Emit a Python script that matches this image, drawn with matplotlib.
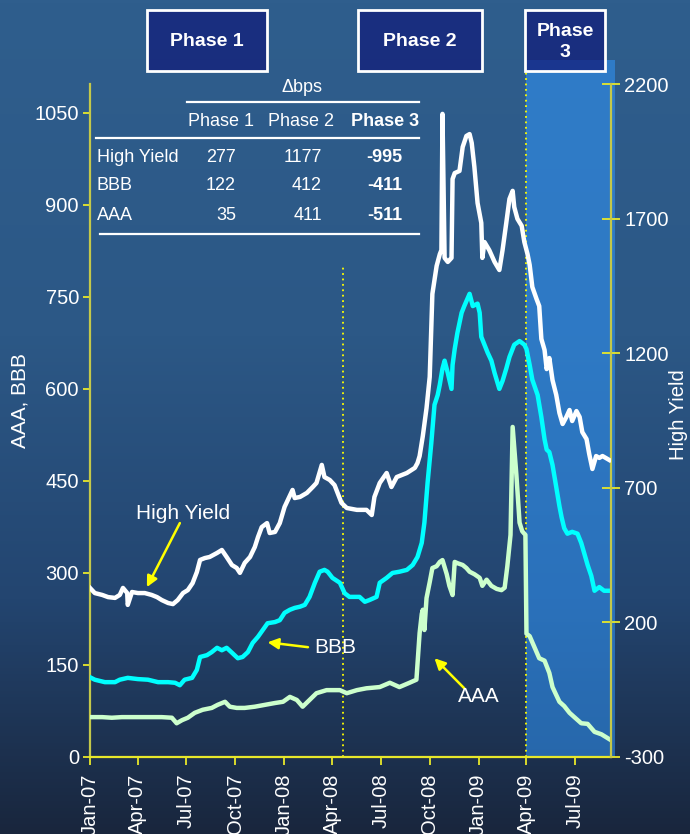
import numpy as np
import pandas as pd
import matplotlib
matplotlib.use("Agg")
import matplotlib.pyplot as plt
import matplotlib.dates as mdates
from matplotlib.colors import LinearSegmentedColormap
from matplotlib.patches import Rectangle
from matplotlib.lines import Line2D

plt.rcParams['font.family'] = ['Liberation Sans', 'DejaVu Sans']
plt.rcParams['axes.unicode_minus'] = False

# ---------------- spread series (bps) ----------------
hy_dates = [
    "2007-01-01", "2007-01-10", "2007-01-24", "2007-02-04", "2007-02-17", "2007-02-26",
    "2007-03-04", "2007-03-12", "2007-03-13", "2007-03-21", "2007-04-01", "2007-04-14",
    "2007-04-27", "2007-05-07", "2007-05-16", "2007-05-28", "2007-06-06", "2007-06-15",
    "2007-06-25", "2007-07-04", "2007-07-13", "2007-07-21", "2007-07-27", "2007-08-05",
    "2007-08-14", "2007-08-28", "2007-09-06", "2007-09-15", "2007-09-25", "2007-10-04",
    "2007-10-10", "2007-10-19", "2007-10-29", "2007-11-07", "2007-11-13", "2007-11-20",
    "2007-11-30", "2007-12-05", "2007-12-15", "2007-12-24", "2008-01-02", "2008-01-17",
    "2008-01-21", "2008-01-31", "2008-02-13", "2008-02-24", "2008-03-02", "2008-03-12",
    "2008-03-17", "2008-03-27", "2008-04-05", "2008-04-18", "2008-04-28", "2008-05-17",
    "2008-06-04", "2008-06-14", "2008-06-19", "2008-06-29", "2008-07-12", "2008-07-21",
    "2008-07-31", "2008-08-19", "2008-09-03", "2008-09-08", "2008-09-12", "2008-09-18",
    "2008-09-25", "2008-10-01", "2008-10-06", "2008-10-14", "2008-10-20", "2008-10-23",
    "2008-10-25", "2008-10-29", "2008-11-04", "2008-11-11", "2008-11-13", "2008-11-17",
    "2008-11-26", "2008-12-02", "2008-12-09", "2008-12-15", "2008-12-19", "2008-12-24",
    "2008-12-30", "2009-01-06", "2009-01-08", "2009-01-12", "2009-01-21", "2009-01-31",
    "2009-02-09", "2009-02-15", "2009-02-22", "2009-02-28", "2009-03-06", "2009-03-09",
    "2009-03-15", "2009-03-23", "2009-03-28", "2009-04-03", "2009-04-07", "2009-04-12",
    "2009-04-20", "2009-04-25", "2009-04-29", "2009-05-05", "2009-05-09", "2009-05-14",
    "2009-05-20", "2009-05-27", "2009-06-02", "2009-06-08", "2009-06-15", "2009-06-21",
    "2009-06-26", "2009-07-04", "2009-07-10", "2009-07-15", "2009-07-23", "2009-07-28",
    "2009-08-03", "2009-08-10", "2009-08-16", "2009-08-22", "2009-09-04",
]
hy_values = [
    328, 309, 302, 294, 291, 302, 328, 309, 265, 313, 309, 309,
    302, 294, 283, 272, 268, 283, 309, 320, 346, 387, 432, 439,
    443, 458, 469, 443, 413, 402, 384, 421, 443, 480, 517, 554,
    569, 532, 536, 569, 629, 692, 662, 666, 681, 703, 718, 785,
    740, 729, 710, 644, 625, 618, 618, 599, 666, 718, 755, 703,
    740, 755, 774, 792, 818, 892, 996, 1112, 1420, 1524, 1568, 1583,
    2089, 1554, 1539, 1554, 1847, 1869, 1877, 1966, 2007, 2014, 1981, 1892,
    1758, 1684, 1554, 1613, 1583, 1539, 1509, 1583, 1684, 1773, 1803, 1743,
    1699, 1673, 1613, 1568, 1528, 1446, 1401, 1375, 1253, 1212, 1141, 1182,
    1100, 1045, 978, 937, 963, 989, 948, 985, 963, 907, 881, 826,
    770, 818, 811, 818, 803,
]

bbb_dates = [
    "2007-01-01", "2007-01-10", "2007-01-29", "2007-02-17", "2007-02-26", "2007-03-13",
    "2007-04-01", "2007-04-20", "2007-05-09", "2007-05-28", "2007-06-10", "2007-06-19",
    "2007-06-28", "2007-07-12", "2007-07-21", "2007-07-27", "2007-08-09", "2007-08-18",
    "2007-08-28", "2007-09-06", "2007-09-15", "2007-09-25", "2007-10-06", "2007-10-15",
    "2007-10-25", "2007-11-03", "2007-11-13", "2007-11-22", "2007-12-01", "2007-12-15",
    "2007-12-24", "2008-01-02", "2008-01-12", "2008-01-21", "2008-01-31", "2008-02-09",
    "2008-02-18", "2008-02-28", "2008-03-08", "2008-03-17", "2008-03-23", "2008-04-01",
    "2008-04-15", "2008-04-24", "2008-05-03", "2008-05-22", "2008-06-01", "2008-06-10",
    "2008-06-23", "2008-06-29", "2008-07-12", "2008-07-23", "2008-08-05", "2008-08-19",
    "2008-08-30", "2008-09-08", "2008-09-16", "2008-09-21", "2008-09-27", "2008-10-04",
    "2008-10-10", "2008-10-16", "2008-10-20", "2008-10-25", "2008-10-29", "2008-11-04",
    "2008-11-11", "2008-11-13", "2008-11-17", "2008-11-22", "2008-11-30", "2008-12-05",
    "2008-12-15", "2008-12-21", "2008-12-30", "2009-01-03", "2009-01-06", "2009-01-12",
    "2009-01-18", "2009-01-25", "2009-01-31", "2009-02-09", "2009-02-15", "2009-02-22",
    "2009-02-28", "2009-03-09", "2009-03-19", "2009-03-28", "2009-04-01", "2009-04-07",
    "2009-04-12", "2009-04-22", "2009-04-29", "2009-05-05", "2009-05-09", "2009-05-14",
    "2009-05-20", "2009-05-27", "2009-06-02", "2009-06-06", "2009-06-11", "2009-06-17",
    "2009-06-26", "2009-07-06", "2009-07-13", "2009-07-19", "2009-07-25", "2009-08-01",
    "2009-08-07", "2009-08-16", "2009-08-25", "2009-09-04",
]
bbb_values = [
    130, 126, 122, 122, 126, 129, 127, 126, 122, 122, 121, 117,
    126, 129, 142, 163, 166, 171, 178, 174, 178, 170, 161, 163,
    171, 186, 196, 207, 218, 220, 223, 235, 240, 243, 245, 248,
    261, 284, 302, 305, 302, 292, 284, 267, 261, 261, 253, 256,
    261, 284, 292, 300, 302, 305, 313, 326, 349, 382, 447, 512,
    574, 590, 607, 633, 646, 626, 600, 639, 665, 691, 724, 735,
    755, 735, 739, 724, 685, 672, 659, 646, 626, 600, 613, 633,
    652, 672, 678, 672, 665, 639, 615, 590, 554, 518, 501, 497,
    476, 440, 409, 391, 373, 364, 367, 364, 349, 331, 313, 295,
    271, 277, 271, 271,
]

aaa_dates = [
    "2007-01-01", "2007-01-24", "2007-02-11", "2007-03-02", "2007-03-21", "2007-04-09",
    "2007-04-27", "2007-05-16", "2007-06-04", "2007-06-13", "2007-06-23", "2007-07-04",
    "2007-07-17", "2007-08-01", "2007-08-18", "2007-08-29", "2007-09-12", "2007-09-21",
    "2007-10-04", "2007-10-19", "2007-11-07", "2007-11-26", "2007-12-15", "2007-12-30",
    "2008-01-12", "2008-01-25", "2008-02-05", "2008-02-18", "2008-03-02", "2008-03-21",
    "2008-04-15", "2008-04-28", "2008-05-17", "2008-06-04", "2008-06-29", "2008-07-18",
    "2008-08-05", "2008-08-24", "2008-09-06", "2008-09-12", "2008-09-16", "2008-09-18",
    "2008-09-21", "2008-09-25", "2008-10-01", "2008-10-06", "2008-10-14", "2008-10-20",
    "2008-10-25", "2008-11-02", "2008-11-07", "2008-11-13", "2008-11-17", "2008-11-22",
    "2008-12-02", "2008-12-09", "2008-12-15", "2008-12-24", "2009-01-03", "2009-01-08",
    "2009-01-16", "2009-01-25", "2009-02-04", "2009-02-13", "2009-02-19", "2009-02-24",
    "2009-03-02", "2009-03-06", "2009-03-13", "2009-03-19", "2009-03-24", "2009-03-30",
    "2009-04-01", "2009-04-07", "2009-04-16", "2009-04-25", "2009-05-05", "2009-05-14",
    "2009-05-20", "2009-05-27", "2009-06-02", "2009-06-11", "2009-06-21", "2009-06-30",
    "2009-07-13", "2009-07-25", "2009-08-07", "2009-08-20", "2009-09-04",
]
aaa_values = [
    65, 65, 64, 65, 65, 65, 65, 65, 64, 55, 60, 64,
    72, 77, 80, 85, 90, 82, 80, 80, 82, 85, 88, 90,
    98, 93, 82, 93, 104, 109, 109, 104, 109, 112, 114, 121,
    114, 121, 126, 202, 233, 240, 207, 259, 285, 308, 311, 318,
    321, 298, 279, 264, 318, 316, 313, 308, 302, 298, 292, 279,
    289, 279, 274, 272, 276, 311, 362, 538, 460, 382, 368, 362,
    201, 197, 179, 161, 157, 137, 114, 101, 90, 83, 72, 65,
    55, 54, 41, 37, 29,
]

# ---------------- phases and summary table ----------------
phase_names = ["Phase 1", "Phase 2", "Phase\n3"]
phase1_end = "2008-04-20"
phase3_start = "2009-03-31"
phase3_end = "2009-09-14"

table_title = "\u0394bps"
table_cols = ["Phase 1", "Phase 2", "Phase 3"]
table_rows = ["High Yield", "BBB", "AAA"]
table_vals = [[277, 1177, -995],
              [122, 412, -411],
              [35, 411, -511]]

left_ticks = [0, 150, 300, 450, 600, 750, 900, 1050]
right_ticks = [-300, 200, 700, 1200, 1700, 2200]

# ---------------- figure ----------------
W, H = 690, 834
fig = plt.figure(figsize=(W / 100, H / 100), dpi=100)


def fx(px):
    return px / W


def fy(py):
    return 1 - py / H


# vertical background gradient
bg = fig.add_axes([0, 0, 1, 1], zorder=-10)
bg_cmap = LinearSegmentedColormap.from_list(
    "bg", [(0.0, "#2f5e8d"), (0.40, "#2c5886"), (0.72, "#234570"), (1.0, "#19263d")])
bg.imshow(np.linspace(0, 1, 256).reshape(-1, 1), aspect="auto", cmap=bg_cmap,
          extent=[0, 1, 0, 1], origin="upper")
bg.set_axis_off()

ax = fig.add_axes([fx(90), fy(757), fx(611) - fx(90), fy(84) - fy(757)])
ax.patch.set_alpha(0)
ax2 = ax.twinx()
ax2.patch.set_alpha(0)

# phase header boxes (drawn over the shaded phase 3 band)
boxes = [(147, 267), (358, 482), (525, 605)]
for (x0, x1), name in zip(boxes, phase_names):
    fig.add_artist(Rectangle((fx(x0), fy(71)), fx(x1) - fx(x0), fy(10) - fy(71),
                             transform=fig.transFigure, facecolor=(0.07, 0.11, 0.48, 0.72),
                             edgecolor="white", linewidth=2, zorder=5))
    fig.text(fx((x0 + x1) / 2), fy(42), name, ha="center", va="center",
             color="white", fontsize=14, fontweight="bold", linespacing=1.3, zorder=6)

x_start = pd.Timestamp("2007-01-01")
x_end = pd.Timestamp("2009-09-07")
ax.set_xlim(x_start, x_end)
ax.set_ylim(0, 1097)
ax2.set_ylim(-300, 2200)

# phase 3 shading and phase boundaries
top_ext = (757 - 60) / (757 - 84)
ax.axvspan(pd.Timestamp(phase3_start), pd.Timestamp(phase3_end), ymin=0, ymax=top_ext,
           facecolor="#3196f9", alpha=0.55, lw=0, clip_on=False, zorder=0.5)
ax.axvline(pd.Timestamp(phase1_end), ymin=0, ymax=(757 - 265) / (757 - 84),
           color="#ffff00", ls=(0, (1, 2)), lw=1.3, zorder=1)
ax.axvline(pd.Timestamp(phase3_start), ymin=0, ymax=top_ext, clip_on=False,
           color="#ffff00", ls=(0, (1, 2)), lw=1.3, zorder=1)

# spread lines
ax.plot(pd.to_datetime(aaa_dates), aaa_values, color="#ccffcc", lw=3.2,
        solid_joinstyle="round", zorder=3)
ax.plot(pd.to_datetime(bbb_dates), bbb_values, color="#00ffff", lw=3.2,
        solid_joinstyle="round", zorder=3)
ax2.plot(pd.to_datetime(hy_dates), hy_values, color="white", lw=3.2,
         solid_joinstyle="round", zorder=3)

# axes styling
spine_col = "#c4c84a"
tick_col = "#e8e82a"
for s in ["top", "right"]:
    ax.spines[s].set_visible(False)
for s in ["top", "left", "bottom"]:
    ax2.spines[s].set_visible(False)
ax.spines["left"].set_color(spine_col)
ax.spines["bottom"].set_color(tick_col)
ax2.spines["right"].set_color(spine_col)
for sp in [ax.spines["left"], ax.spines["bottom"], ax2.spines["right"]]:
    sp.set_linewidth(1.6)

ax.set_yticks(left_ticks)
ax2.set_yticks(right_ticks)
ax.tick_params(axis="y", direction="out", length=5, width=1.3, color=tick_col,
               labelcolor="white", labelsize=14.5, pad=3)
ax2.tick_params(axis="y", direction="inout", length=13, width=1.3, color=tick_col,
                labelcolor="white", labelsize=14.5, pad=3)

ax.xaxis.set_major_locator(mdates.MonthLocator(bymonth=[1, 4, 7, 10]))
ax.xaxis.set_major_formatter(mdates.DateFormatter("%b-%y"))
ax.tick_params(axis="x", direction="out", length=6, width=1.3, color=tick_col,
               labelcolor="white", labelsize=14.5, pad=6, labelrotation=90)

ax.set_ylabel("AAA, BBB", color="white", fontsize=15)
ax.yaxis.set_label_coords((30 - 90) / 521, (757 - 401) / 673)
# right-hand axis title, placed as figure text so it sits fully inside the canvas
fig.text(fx(679), fy(415), "High Yield", color="white", fontsize=14.5, rotation=90,
         ha="center", va="center")

# series annotations
arrow_kw = dict(arrowstyle="-|>", color="#ffff00", lw=1.8, mutation_scale=16,
                shrinkA=0, shrinkB=0)
ax2.annotate("", xy=(pd.Timestamp("2007-04-18"), 331),
             xytext=(pd.Timestamp("2007-06-19"), 569), arrowprops=arrow_kw, zorder=4)
ax2.text(pd.Timestamp("2007-06-25"), 606, "High Yield", color="white", fontsize=15,
         ha="center", va="center", zorder=4)
ax.annotate("", xy=(pd.Timestamp("2007-12-01"), 187),
            xytext=(pd.Timestamp("2008-02-15"), 179), arrowprops=arrow_kw, zorder=4)
ax.text(pd.Timestamp("2008-04-07"), 179, "BBB", color="white", fontsize=15,
        ha="center", va="center", zorder=4)
ax.annotate("", xy=(pd.Timestamp("2008-10-10"), 161),
            xytext=(pd.Timestamp("2008-12-05"), 112), arrowprops=arrow_kw, zorder=4)
ax.text(pd.Timestamp("2009-01-01"), 98, "AAA", color="white", fontsize=15,
        ha="center", va="center", zorder=4)

# summary table of spread changes
tfs = 13
fig.text(fx(302), fy(88), table_title, ha="center", va="center", color="white", fontsize=tfs)
col_centers = [221, 301, 385]
col_rights = [236, 322, 402]
for name, cx in zip(table_cols, col_centers):
    fig.text(fx(cx), fy(121), name, ha="center", va="center", color="white", fontsize=tfs,
             fontweight="bold" if name == "Phase 3" else "normal")
row_ys = [157, 186, 215]
for rname, vals, ry in zip(table_rows, table_vals, row_ys):
    fig.text(fx(97), fy(ry), rname, ha="left", va="center", color="white", fontsize=tfs)
    for j, (v, rx) in enumerate(zip(vals, col_rights)):
        fig.text(fx(rx), fy(ry), f"{v}", ha="right", va="center", color="white",
                 fontsize=tfs, fontweight="bold" if j == 2 else "normal")
for x0, x1, yy in [(187, 419, 102), (96, 419, 138), (100, 419, 234)]:
    fig.add_artist(Line2D([fx(x0), fx(x1)], [fy(yy), fy(yy)], transform=fig.transFigure,
                          color="white", lw=1.6))

fig.savefig("out.png", dpi=100)
